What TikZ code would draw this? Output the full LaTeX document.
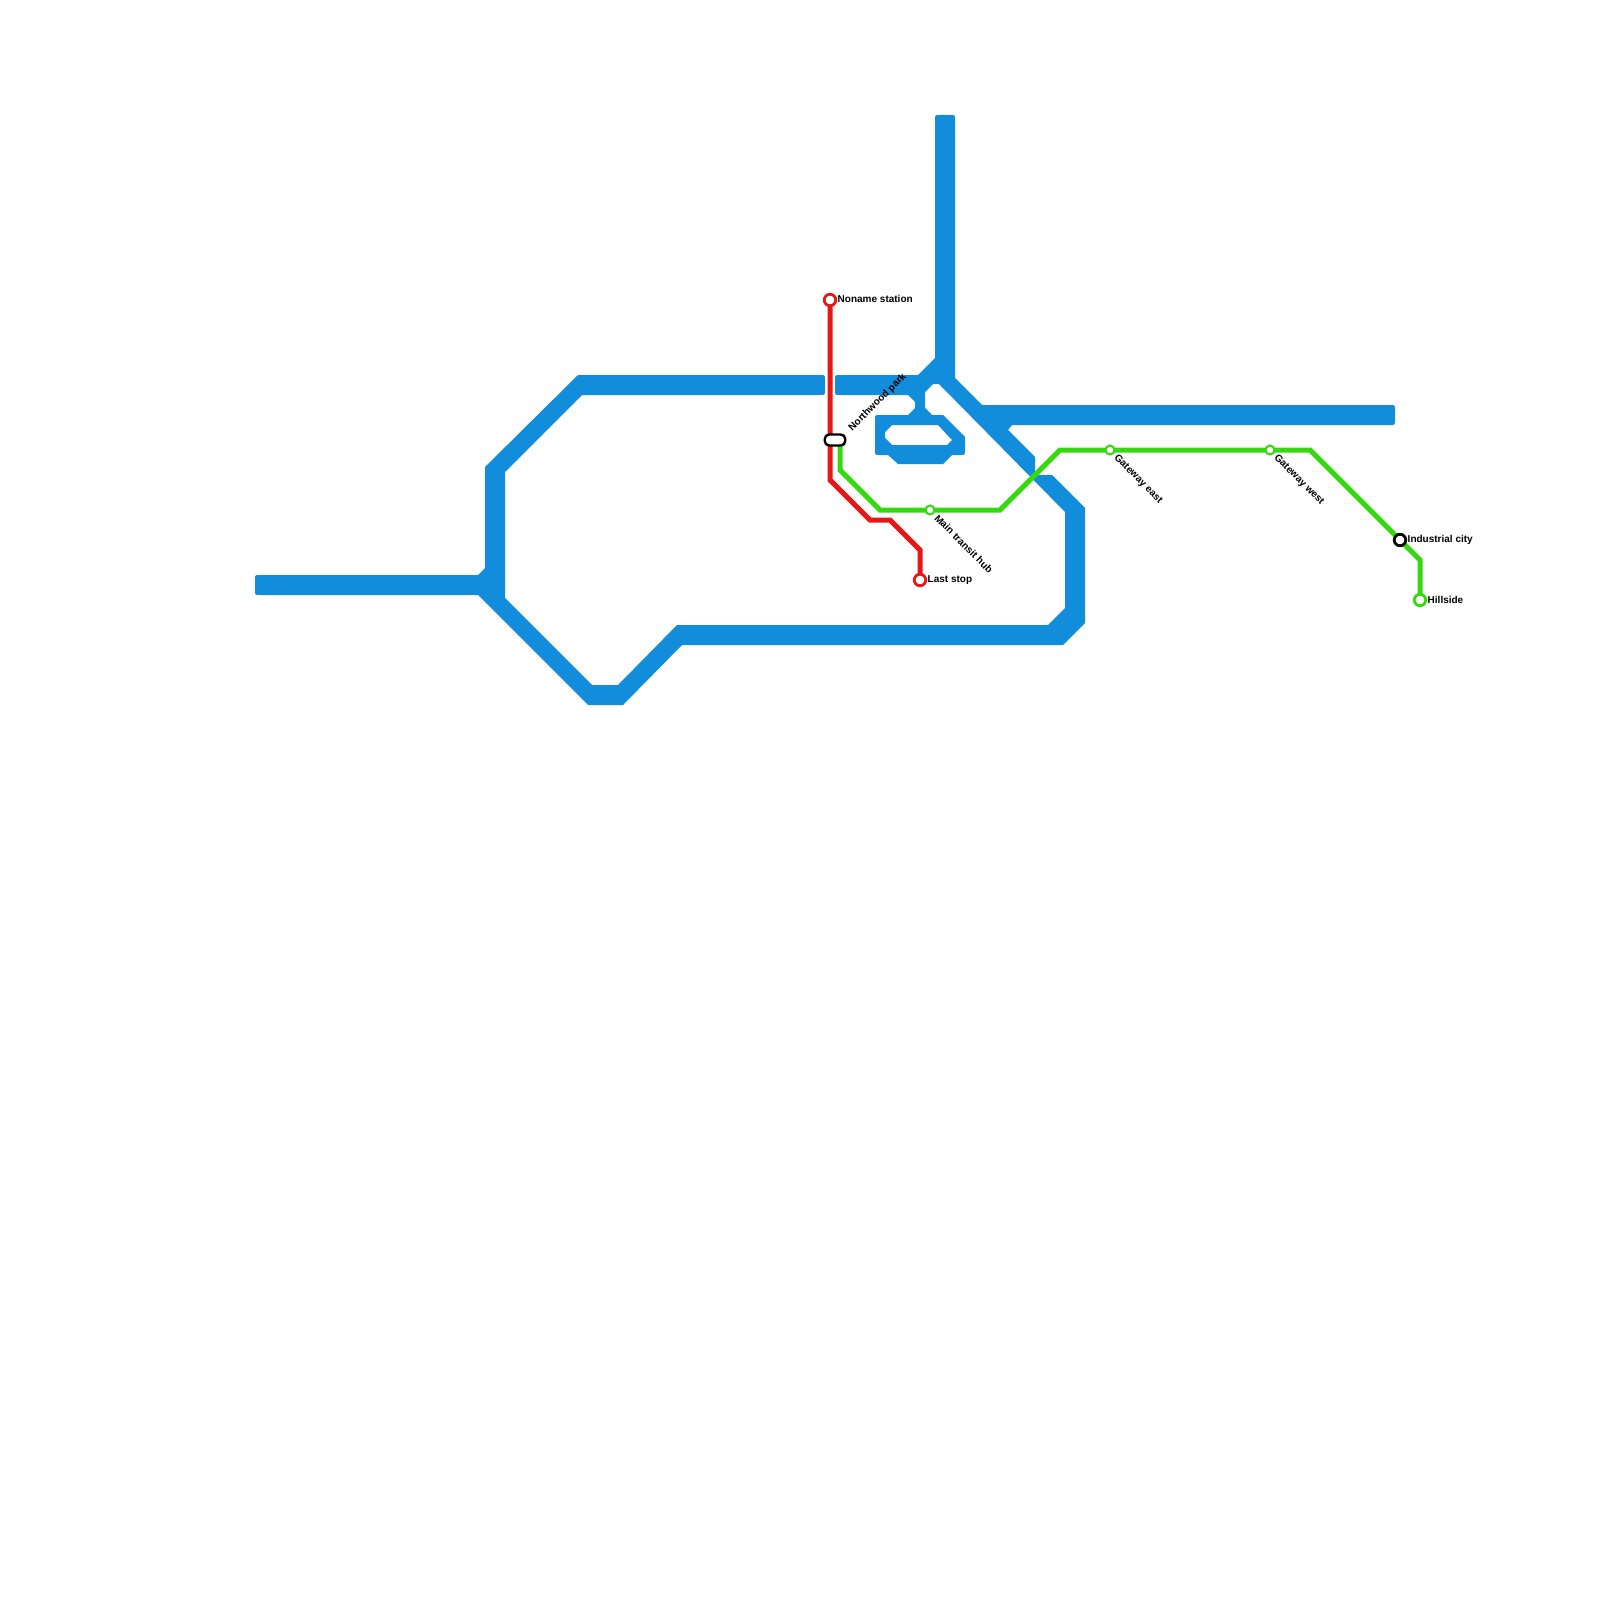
\documentclass[tikz,border=0pt]{standalone}
\usepackage{fontspec}
\setmainfont{Liberation Sans}
\usetikzlibrary{backgrounds}
\definecolor{bluel}{RGB}{18,141,219}
\definecolor{redl}{RGB}{230,23,23}
\definecolor{greenl}{RGB}{52,217,16}
\tikzset{
  redline/.style={draw=redl,line width=0.05cm,line join=miter},
  greenline/.style={draw=greenl,line width=0.05cm,line join=miter},
  bigstation/.style={circle,fill=white,line width=0.028cm,inner sep=0pt,minimum size=0.115cm},
  smallstation/.style={circle,fill=white,line width=0.02cm,inner sep=0pt,minimum size=0.09cm},
  interchange/.style={rectangle,rounded corners=0.045cm,draw=black,fill=white,line width=0.024cm,inner sep=0pt,minimum width=0.205cm,minimum height=0.11cm},
  stationlabel/.style={inner sep=0pt,font=\fontsize{2.845}{3.4}\selectfont\bfseries,text=black,anchor=west}
}
\begin{document}
\begin{tikzpicture}[x=0.01cm,y=-0.01cm]
\useasboundingbox (0,0) rectangle (1600,1600);
% stations
\node[bigstation,draw=redl] (noname) at (830,300) {};
\node[bigstation,draw=redl] (last) at (920,580) {};
\node[interchange] (northwood) at (835,440) {};
\coordinate (greenstart) at (840,440);
\node[smallstation,draw=greenl] (hub) at (930,510) {};
\node[smallstation,draw=greenl] (east) at (1110,450) {};
\node[smallstation,draw=greenl] (west) at (1270,450) {};
\node[bigstation,draw=black] (industrial) at (1400,540) {};
\node[bigstation,draw=greenl] (hillside) at (1420,600) {};
\coordinate (r1) at (830,480);
\coordinate (r2) at (870,520);
\coordinate (r3) at (890,520);
\coordinate (r4) at (920,550);
\coordinate (g1) at (840,470);
\coordinate (g2) at (880,510);
\coordinate (g3) at (1000,510);
\coordinate (g4) at (1060,450);
\coordinate (g5) at (1310,450);
\coordinate (g6) at (1420,560);
\begin{scope}[on background layer]
\fill[bluel,even odd rule]
  (260,575) -- (478,575) -- (485,568) -- (485,467) -- (578,375)
  -- (820,375) .. controls (825,375) .. (825,380) -- (825,390) .. controls (825,395) .. (820,395)
  -- (582,395) -- (505,472) -- (505,598) -- (592,685) -- (618,685) -- (677,625)
  -- (1048,625) -- (1065,608) -- (1065,512) -- (939,384) -- (933,384) -- (925,392) -- (925,408) -- (932,415)
  -- (943,415) -- (965,437) -- (965,450) .. controls (965,455) .. (960,455)
  -- (952,455) -- (943,464) -- (898,464) -- (888,455) -- (880,455) .. controls (875,455) .. (875,450)
  -- (875,420) .. controls (875,415) .. (880,415)
  -- (908,415) -- (915,408) -- (915,402) -- (908,395) -- (840,395) .. controls (835,395) .. (835,390)
  -- (835,380) .. controls (835,375) .. (840,375)
  -- (918,375) -- (935,358) -- (935,120) .. controls (935,115) .. (940,115)
  -- (950,115) .. controls (955,115) .. (955,120)
  -- (955,378) -- (982,405) -- (1390,405) .. controls (1395,405) .. (1395,410)
  -- (1395,420) .. controls (1395,425) .. (1390,425)
  -- (1012,425) -- (1008,430) -- (1035,457) -- (1035,475) -- (1052,475) -- (1085,508) -- (1085,623)
  -- (1063,645) -- (682,645) -- (623,705) -- (588,705) -- (478,595)
  -- (260,595) .. controls (255,595) .. (255,590) -- (255,580) .. controls (255,575) .. (260,575) -- cycle
  (892,425) -- (938,425) -- (952,440) -- (947,445) -- (892,445) -- (885,438) -- (885,432) -- cycle;
\draw[redline] (noname.center) -- (r1) -- (r2) -- (r3) -- (r4) -- (last.center);
\draw[greenline] (greenstart) -- (g1) -- (g2) -- (hub.center) -- (g3) -- (g4) -- (east.center) -- (west.center) -- (g5) -- (industrial.center) -- (g6) -- (hillside.center);
\end{scope}
% labels
\node[stationlabel] (lnoname) at (837,299) {Noname station};
\node[stationlabel] (llast) at (927,580) {Last stop};
\node[stationlabel] (lindustrial) at (1407,539.5) {Industrial city};
\node[stationlabel] (lhillside) at (1427,599.5) {Hillside};
\node[stationlabel,rotate=45] (lnorthwood) at (850,430) {Northwood park};
\node[stationlabel,rotate=-45] (lhub) at (936,516) {Main transit hub};
\node[stationlabel,rotate=-45] (least) at (1115,456) {Gateway east};
\node[stationlabel,rotate=-45] (lwest) at (1275,456) {Gateway west};
\end{tikzpicture}
\end{document}
